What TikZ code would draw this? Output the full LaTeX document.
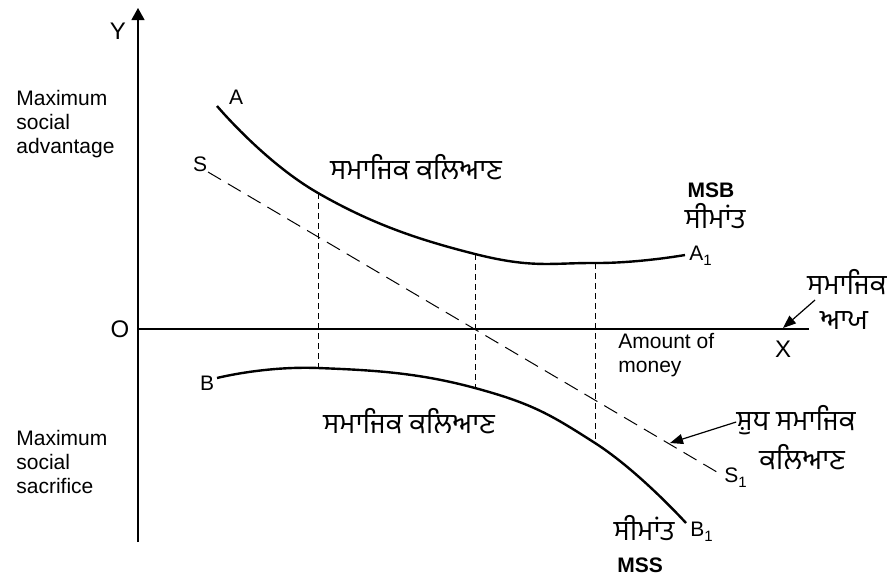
\documentclass[tikz,border=0pt]{standalone}
\usepackage{fontspec}
\setmainfont{Liberation Sans}
\newfontfamily\gurfont[Script=Gurmukhi]{Hind Jalandhar}
\usetikzlibrary{arrows.meta}
\newcommand{\subone}{\raisebox{-2.5pt}{\fontsize{7.5}{8}\selectfont 1}}

\begin{document}
\begin{tikzpicture}[
  x=0.5pt,y=-0.5pt,
  every node/.style={font=\fontsize{10.5}{12}\selectfont,inner sep=0pt},
  axlabel/.style={font=\fontsize{12}{14}\selectfont},
  pun/.style={font=\gurfont\fontsize{14}{17}\selectfont,text height=8pt,text depth=2pt},
  bold/.style={font=\bfseries\fontsize{10.5}{12}\selectfont},
  axis/.style={line width=0.6pt},
  curve/.style={line width=1.2pt},
  drop/.style={line width=0.5pt,dash pattern=on 3pt off 2pt},
  netline/.style={line width=0.5pt,dash pattern=on 7.5pt off 4pt},
  arr/.style={-{Triangle[length=6.5pt,width=5pt]},line width=0.6pt}
]
\useasboundingbox (0,0) rectangle (892,574);
\coordinate (orig) at (138,329);
\coordinate (ytop) at (138,8);
\coordinate (ybot) at (138,542);
\coordinate (xend) at (809,329);
\draw[axis,-{Triangle[length=6pt,width=6.5pt]}] (ybot) -- (ytop);
\draw[axis] (orig) -- (xend);
\node[axlabel] (Y) at (118,31) {Y};
\node[axlabel] (O) at (120,329) {O};
\node[axlabel] (X) at (783,349) {X};
\node[anchor=west,align=left] (adv) at (16,124) {Maximum\\social\\advantage};
\node[anchor=west,align=left] (sac) at (16,462) {Maximum\\social\\sacrifice};
\node[anchor=west,align=left] (money) at (618,355) {Amount of\\money};
\draw[curve] plot[smooth,tension=0.75] coordinates {(217,106) (318,193) (475,254) (595,263) (685,255)};
\draw[curve] plot[smooth,tension=0.75] coordinates {(217,378) (318,368) (475,388) (595,443) (686,523)};
\coordinate (s0) at (208,172);
\coordinate (s1) at (722,475);
\draw[netline] (s0) -- (s1);
\draw[drop] (318,193) -- (318,368);
\draw[drop] (475,254) -- (475,388);
\draw[drop] (595,263) -- (595,443);
\node (A) at (236,97) {A};
\node[anchor=west] (A1) at (689,256) {A\subone};
\node (S) at (200,164) {S};
\node[anchor=west] (S1) at (724,478) {S\subone};
\node (B) at (207,383) {B};
\node[anchor=west] (B1) at (690,532) {B\subone};
\node[pun] (welfup) at (416,173) {ਸਮਾਜਿਕ ਕਲਿਆਣ};
\node[pun] (welfdn) at (409,427) {ਸਮਾਜਿਕ ਕਲਿਆਣ};
\node[bold] (msb) at (711,190) {MSB};
\node[pun] (msbp) at (715,222) {ਸੀਮਾਂਤ};
\node[pun] (inc1) at (847,288) {ਸਮਾਜਿਕ};
\node[pun] (inc2) at (844,323) {ਆਯ};
\node[pun] (net1) at (796,424) {ਸ਼ੁਧ ਸਮਾਜਿਕ};
\node[pun] (net2) at (802,463) {ਕਲਿਆਣ};
\node[pun] (mssp) at (644,534) {ਸੀਮਾਂਤ};
\node[bold] (mss) at (640,565) {MSS};
\coordinate (incto) at (783,328);
\coordinate (netto) at (670,443);
\draw[arr] (815,300) -- (incto);
\draw[arr] (net1.west) ++(0,-2) -- (netto);
\end{tikzpicture}
\end{document}
